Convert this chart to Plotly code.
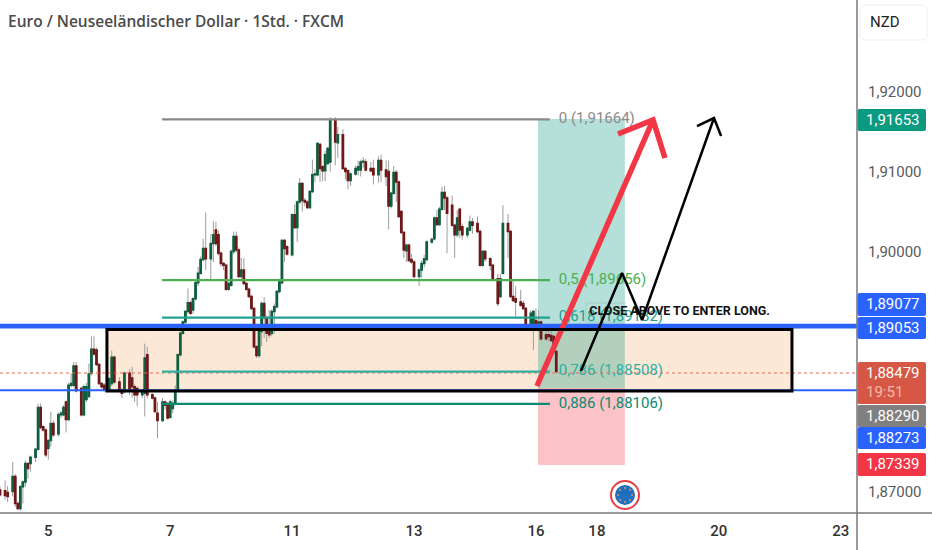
import plotly.graph_objects as go

# hourly bars, x is trading hours from the left edge of the chart
bar_hours = [0,2,3,5,6,7,8,9,10,11,
    12,14,15,16,17,18,19,20,21,23,
    24,25,26,27,28,29,30,32,33,34,
    35,36,37,38,39,40,41,43,44,45,
    47,48,49,51,52,53,54,56,57,58,
    60,61,62,64,65,66,67,68,69,70,
    71,72,73,74,75,76,77,78,79,80,
    81,83,84,85,86,87,88,89,90,91,
    92,93,94,95,96,97,98,99,100,101,
    102,103,104,105,106,107,108,109,110,111,
    112,113,115,116,117,118,119,120,121,122,
    123,124,125,126,127,128,129,130,132,133,
    135,136,137,138,140,141,142,143,144,146,
    147,149,150,152,153,154,155,156,157,158,
    159,160,161,162,163,165,166,167,168,170,
    171,172,173,174,175,176,178,179,180,181,
    182,184,185,186,188,189,190,191,193,194,
    196,197,198,200,201,202,203,205,206,207,
    209,210,211,212,213,215,216,217,218,219]

opens = [1.8700,1.8699,1.8697,1.8698,1.8717,1.8683,1.8677,1.8704,1.8710,1.8733,
    1.8733,1.8741,1.8751,1.8803,1.8779,1.8775,1.8752,1.8762,1.8783,1.8770,
    1.8794,1.8794,1.8810,1.8788,1.8831,1.8831,1.8855,1.8827,1.8794,1.8813,
    1.8817,1.8846,1.8876,1.8875,1.8857,1.8833,1.8831,1.8825,1.8833,1.8866,
    1.8835,1.8825,1.8823,1.8846,1.8840,1.8829,1.8827,1.8819,1.8821,1.8869,
    1.8819,1.8815,1.8796,1.8787,1.8810,1.8806,1.8791,1.8802,1.8808,1.8825,
    1.8869,1.8896,1.8910,1.8923,1.8934,1.8925,1.8939,1.8959,1.8971,1.8988,
    1.9002,1.8989,1.9008,1.9025,1.9019,1.8996,1.8983,1.8981,1.8951,1.8956,
    1.8998,1.9017,1.9000,1.8967,1.8975,1.8958,1.8951,1.8942,1.8927,1.8879,
    1.8868,1.8898,1.8933,1.8915,1.8898,1.8896,1.8923,1.8929,1.8948,1.8959,
    1.9012,1.9004,1.8994,1.9044,1.9028,1.9060,1.9083,1.9062,1.9060,1.9053,
    1.9073,1.9094,1.9094,1.9132,1.9104,1.9099,1.9108,1.9110,1.9162,1.9134,
    1.9144,1.9102,1.9099,1.9087,1.9095,1.9100,1.9100,1.9110,1.9110,1.9102,
    1.9102,1.9094,1.9112,1.9100,1.9098,1.9055,1.9071,1.9097,1.9085,1.9048,
    1.9022,1.8999,1.9006,1.8988,1.8985,1.8967,1.8975,1.8983,1.8988,1.9010,
    1.9014,1.9040,1.9032,1.9051,1.9072,1.9065,1.9056,1.9031,1.9019,1.9051,
    1.9029,1.9019,1.9025,1.9035,1.9033,1.9023,1.8981,1.8998,1.8989,1.8981,
    1.8964,1.8942,1.8971,1.9033,1.9023,1.8942,1.8939,1.8935,1.8933,1.8927,
    1.8907,1.8906,1.8912,1.8906,1.8910,1.8894,1.8894,1.8893,1.8892,1.8873]

closes = [1.8694,1.8693,1.8692,1.8717,1.8683,1.8677,1.8704,1.8710,1.8733,1.8727,
    1.8741,1.8751,1.8803,1.8778,1.8775,1.8744,1.8762,1.8783,1.8769,1.8794,
    1.8796,1.8803,1.8788,1.8831,1.8833,1.8855,1.8824,1.8794,1.8829,1.8829,
    1.8845,1.8876,1.8870,1.8857,1.8833,1.8829,1.8825,1.8839,1.8866,1.8835,
    1.8825,1.8821,1.8846,1.8825,1.8829,1.8819,1.8819,1.8822,1.8865,1.8819,
    1.8815,1.8798,1.8787,1.8810,1.8806,1.8790,1.8810,1.8808,1.8825,1.8869,
    1.8896,1.8910,1.8923,1.8934,1.8921,1.8939,1.8959,1.8971,1.8988,1.9002,
    1.8989,1.9008,1.9019,1.9008,1.8996,1.8983,1.8981,1.8951,1.8958,1.8998,
    1.9017,1.9000,1.8967,1.8975,1.8958,1.8951,1.8942,1.8927,1.8879,1.8868,
    1.8898,1.8933,1.8915,1.8896,1.8894,1.8923,1.8929,1.8948,1.8960,1.9012,
    1.9002,1.8995,1.9044,1.9028,1.9060,1.9083,1.9062,1.9060,1.9053,1.9073,
    1.9094,1.9095,1.9133,1.9102,1.9099,1.9119,1.9127,1.9162,1.9135,1.9144,
    1.9102,1.9098,1.9087,1.9095,1.9102,1.9104,1.9110,1.9111,1.9100,1.9099,
    1.9094,1.9112,1.9100,1.9092,1.9055,1.9071,1.9097,1.9085,1.9042,1.9022,
    1.9000,1.9006,1.8987,1.8985,1.8967,1.8975,1.8983,1.8989,1.9010,1.9013,
    1.9040,1.9032,1.9051,1.9072,1.9065,1.9046,1.9031,1.9019,1.9040,1.9025,
    1.9019,1.9027,1.9035,1.9031,1.9023,1.8981,1.8998,1.8989,1.8981,1.8964,
    1.8933,1.8964,1.9033,1.9023,1.8942,1.8937,1.8935,1.8931,1.8927,1.8906,
    1.8921,1.8923,1.8906,1.8910,1.8889,1.8889,1.8892,1.8887,1.8873,1.8848]

highs = [1.8704,1.8712,1.8705,1.8735,1.8720,1.8686,1.8706,1.8712,1.8737,1.8734,
    1.8743,1.8752,1.8808,1.8808,1.8781,1.8777,1.8763,1.8798,1.8787,1.8797,
    1.8799,1.8806,1.8812,1.8834,1.8846,1.8860,1.8860,1.8829,1.8832,1.8834,
    1.8858,1.8892,1.8892,1.8878,1.8859,1.8835,1.8834,1.8841,1.8874,1.8868,
    1.8841,1.8827,1.8848,1.8851,1.8854,1.8832,1.8829,1.8826,1.8883,1.8879,
    1.8821,1.8817,1.8810,1.8815,1.8812,1.8810,1.8813,1.8812,1.8831,1.8871,
    1.8898,1.8912,1.8925,1.8952,1.8937,1.8941,1.8962,1.8979,1.8992,1.9014,
    1.9047,1.9020,1.9036,1.9035,1.9024,1.8998,1.8985,1.8983,1.8960,1.9001,
    1.9023,1.9023,1.9003,1.8990,1.8990,1.8960,1.8953,1.8944,1.8929,1.8881,
    1.8902,1.8936,1.8941,1.8918,1.8925,1.8926,1.8933,1.8950,1.8963,1.9014,
    1.9014,1.9006,1.9046,1.9057,1.9062,1.9090,1.9085,1.9065,1.9062,1.9075,
    1.9113,1.9101,1.9135,1.9134,1.9106,1.9124,1.9129,1.9166,1.9166,1.9154,
    1.9151,1.9104,1.9101,1.9097,1.9106,1.9112,1.9113,1.9116,1.9114,1.9110,
    1.9113,1.9117,1.9119,1.9112,1.9112,1.9073,1.9105,1.9100,1.9087,1.9050,
    1.9024,1.9008,1.9008,1.8995,1.8987,1.8977,1.8987,1.8994,1.9012,1.9016,
    1.9042,1.9050,1.9054,1.9079,1.9080,1.9068,1.9068,1.9033,1.9050,1.9053,
    1.9033,1.9029,1.9043,1.9040,1.9042,1.9026,1.9000,1.9000,1.8991,1.8983,
    1.8970,1.8970,1.9056,1.9045,1.9025,1.8962,1.8955,1.8950,1.8937,1.8929,
    1.8925,1.8925,1.8927,1.8925,1.8912,1.8900,1.8905,1.8900,1.8895,1.8875]

lows = [1.8692,1.8688,1.8685,1.8692,1.8679,1.8675,1.8674,1.8683,1.8704,1.8714,
    1.8723,1.8735,1.8749,1.8776,1.8773,1.8741,1.8738,1.8754,1.8766,1.8767,
    1.8790,1.8792,1.8772,1.8786,1.8828,1.8828,1.8822,1.8792,1.8792,1.8810,
    1.8815,1.8843,1.8868,1.8855,1.8831,1.8827,1.8823,1.8823,1.8830,1.8833,
    1.8823,1.8815,1.8821,1.8819,1.8815,1.8810,1.8805,1.8815,1.8792,1.8815,
    1.8813,1.8796,1.8765,1.8785,1.8800,1.8788,1.8789,1.8796,1.8806,1.8823,
    1.8867,1.8894,1.8908,1.8921,1.8919,1.8920,1.8937,1.8955,1.8969,1.8986,
    1.8975,1.8963,1.8985,1.9005,1.8993,1.8979,1.8975,1.8949,1.8949,1.8954,
    1.8995,1.8997,1.8965,1.8963,1.8956,1.8949,1.8940,1.8925,1.8877,1.8865,
    1.8865,1.8880,1.8890,1.8885,1.8890,1.8892,1.8895,1.8927,1.8946,1.8957,
    1.8985,1.8993,1.8992,1.9026,1.9010,1.9058,1.9048,1.9055,1.9051,1.9051,
    1.9071,1.9085,1.9092,1.9085,1.9086,1.9086,1.9106,1.9098,1.9106,1.9115,
    1.9100,1.9088,1.9076,1.9080,1.9093,1.9093,1.9092,1.9103,1.9098,1.9097,
    1.9082,1.9084,1.9085,1.9080,1.9026,1.9052,1.9069,1.9060,1.9040,1.9020,
    1.8990,1.8985,1.8985,1.8983,1.8965,1.8955,1.8965,1.8978,1.8986,1.9008,
    1.9012,1.9030,1.9030,1.9049,1.9050,1.8996,1.9029,1.8990,1.9016,1.9015,
    1.9013,1.9015,1.9023,1.9020,1.9021,1.8979,1.8979,1.8985,1.8975,1.8962,
    1.8930,1.8940,1.8969,1.8990,1.8940,1.8935,1.8917,1.8929,1.8925,1.8904,
    1.8905,1.8875,1.8904,1.8904,1.8886,1.8886,1.8886,1.8885,1.8870,1.8845]

# readings came out a little low against the price scale
reading_offset = 0.00016
opens = [v + reading_offset for v in opens]
closes = [v + reading_offset for v in closes]
highs = [v + reading_offset for v in highs]
lows = [v + reading_offset for v in lows]

day_ticks = [19, 67, 115, 163, 211, 235, 283, 331]
day_labels = ['5', '7', '11', '13', '16', '18', '20', '23']
price_ticks = [1.87, 1.90, 1.91, 1.92]

fib_labels = ['0 (1,91664)', '0,5 (1,89656)', '0,618 (1,89182)', '0,786 (1,88508)', '0,886 (1,88106)']
fib_prices = [1.91648, 1.89640, 1.89170, 1.88495, 1.88093]
fib_colors = ['#8a8a8a', '#4caf50', '#22a08e', '#2fb0a2', '#0c8a72']
fib_start, fib_end, fib_text_x = 63.8, 216.5, 220

blue_lines = [1.89077, 1.89053, 1.88262]
blue_widths = [3, 3, 2]
last_price = 1.88479
zone_top, zone_bottom = 1.89023, 1.88254
zone_start, zone_end = 42.1, 311.8
trade_start, trade_end = 211.8, 246.0
target, entry, stop = 1.91653, 1.88290, 1.87330

red_arrow_x = [211.4, 257.1]
red_arrow_y = [1.88316, 1.91641]
red_head_x = [243.3, 257.1, 261.8]
red_head_y = [1.91466, 1.91641, 1.91166]
black_path_x = [228.7, 244.9, 252.8, 281.1]
black_path_y = [1.88504, 1.89729, 1.89141, 1.91666]
black_head_x = [274.4, 281.1, 283.9]
black_head_y = [1.91566, 1.91666, 1.91441]

# right scale badges: text, top px, bottom px, colour
badge_texts = ['1,91653', '1,89077', '1,89053', '1,88479', '1,88290', '1,88273', '1,87339']
badge_tops = [109, 293, 317, 362, 405, 427, 453]
badge_bottoms = [131, 316, 339, 404, 427, 449, 476]
badge_colors = ['#0b9a7f', '#2962ff', '#2962ff', '#d65745', '#808080', '#2962ff', '#f23645']

PLOT_W, PLOT_H = 857, 513
PRICE_FONT = dict(family='Roboto', size=15)


def xp(px):
    return px / PLOT_W


def yp(py):
    return 1 - py / PLOT_H


def rounded(x0, y0, x1, y1, r):
    return (f'M {xp(x0 + r)} {yp(y0)} L {xp(x1 - r)} {yp(y0)} Q {xp(x1)} {yp(y0)} {xp(x1)} {yp(y0 + r)} '
            f'L {xp(x1)} {yp(y1 - r)} Q {xp(x1)} {yp(y1)} {xp(x1 - r)} {yp(y1)} '
            f'L {xp(x0 + r)} {yp(y1)} Q {xp(x0)} {yp(y1)} {xp(x0)} {yp(y1 - r)} '
            f'L {xp(x0)} {yp(y0 + r)} Q {xp(x0)} {yp(y0)} {xp(x0 + r)} {yp(y0)} Z')


fig = go.Figure()

# gray wicks first, then the bodies on their own trace
wick = dict(line=dict(color='#9c9c9c', width=1), fillcolor='#9c9c9c')
fig.add_trace(go.Candlestick(x=bar_hours, open=opens, high=highs, low=lows, close=closes,
                             increasing=wick, decreasing=wick, whiskerwidth=0, hoverinfo='skip'))
tops = [max(o, c) for o, c in zip(opens, closes)]
bottoms = [min(o, c) for o, c in zip(opens, closes)]
fig.add_trace(go.Candlestick(x=bar_hours, open=opens, high=tops, low=bottoms, close=closes,
                             increasing=dict(line=dict(color='#0f5f3f', width=1.5), fillcolor='#0f5f3f'),
                             decreasing=dict(line=dict(color='#701818', width=1.5), fillcolor='#701818'),
                             whiskerwidth=0, hoverinfo='skip'))

for price, width in zip(blue_lines, blue_widths):
    fig.add_trace(go.Scatter(x=[0, PLOT_W / 2.54], y=[price, price], mode='lines',
                             line=dict(color='#2962ff', width=width), hoverinfo='skip'))
fig.add_trace(go.Scatter(x=[0, PLOT_W / 2.54], y=[last_price, last_price], mode='lines',
                         line=dict(color='#e8685a', width=1, dash='dot'), hoverinfo='skip'))

for label, price, color in zip(fib_labels, fib_prices, fib_colors):
    fig.add_trace(go.Scatter(x=[fib_start, fib_end], y=[price, price], mode='lines',
                             line=dict(color=color, width=2.2), hoverinfo='skip'))
    fig.add_trace(go.Scatter(x=[fib_text_x], y=[price], mode='text', text=[label],
                             textposition='middle right', textfont=dict(family='Roboto', size=15, color=color),
                             hoverinfo='skip'))

fig.add_trace(go.Scatter(x=[fib_text_x + 12], y=[1.89241], mode='text', text=['<b>CLOSE ABOVE TO ENTER LONG.</b>'],
                         textposition='middle right', textfont=dict(family='Roboto', size=12.5, color='#111111'),
                         hoverinfo='skip'))

red = dict(color='#f23645', width=5.5)
fig.add_trace(go.Scatter(x=red_arrow_x, y=red_arrow_y, mode='lines', line=red, hoverinfo='skip'))
fig.add_trace(go.Scatter(x=red_head_x, y=red_head_y, mode='lines', line=red, hoverinfo='skip'))
black = dict(color='#000000', width=2.5)
fig.add_trace(go.Scatter(x=black_path_x, y=black_path_y, mode='lines', line=black, hoverinfo='skip'))
fig.add_trace(go.Scatter(x=black_head_x, y=black_head_y, mode='lines', line=black, hoverinfo='skip'))

shapes = [
    dict(type='rect', layer='below', x0=zone_start, x1=zone_end, y0=zone_bottom, y1=zone_top,
         fillcolor='#fce8d6', line_width=0),
    dict(type='rect', layer='below', x0=trade_start, x1=trade_end, y0=entry, y1=target,
         fillcolor='rgba(8,153,129,0.3)', line_width=0),
    dict(type='rect', layer='below', x0=trade_start, x1=trade_end, y0=stop, y1=entry,
         fillcolor='rgba(242,54,69,0.3)', line_width=0),
    dict(type='rect', layer='below', xref='paper', yref='paper', x0=xp(586), x1=xp(625), y0=yp(322), y1=yp(303),
         fillcolor='rgba(255,255,255,0.75)', line=dict(color='#e6e6e6', width=1)),
    dict(type='rect', layer='above', x0=zone_start, x1=zone_end, y0=zone_bottom, y1=zone_top,
         fillcolor='rgba(0,0,0,0)', line=dict(color='#000000', width=3)),
    # scale frame runs on into the margins
    dict(type='line', xref='paper', yref='paper', x0=1, x1=1, y0=1, y1=yp(550), line=dict(color='#787878', width=1.5)),
    dict(type='line', xref='paper', yref='paper', x0=0, x1=xp(932), y0=0, y1=0, line=dict(color='#787878', width=1.5)),
    dict(type='path', xref='paper', yref='paper', path=rounded(860, 5, 927, 40, 5),
         fillcolor='#ffffff', line=dict(color='#f0f0f0', width=1)),
    # flag icon
    dict(type='circle', xref='paper', yref='paper', x0=xp(611), x1=xp(639), y0=yp(481), y1=yp(509),
         fillcolor='#ffffff', line=dict(color='#ea3a45', width=2)),
    dict(type='circle', xref='paper', yref='paper', x0=xp(615), x1=xp(635), y0=yp(485), y1=yp(505),
         fillcolor='#1f6fc0', line_width=0),
]
for dx, dy in [(0, -7), (5, -5), (7, 0), (5, 5), (0, 7), (-5, 5), (-7, 0), (-5, -5)]:
    shapes.append(dict(type='circle', xref='paper', yref='paper', x0=xp(624 + dx), x1=xp(626 + dx),
                       y0=yp(494 + dy), y1=yp(496 + dy), fillcolor='#e8935a', line_width=0))

annotations = [
    dict(text='Euro / Neuseeländischer Dollar · 1Std. · FXCM', xref='paper', yref='paper', x=xp(6), y=yp(21),
         xanchor='left', yanchor='middle', showarrow=False,
         font=dict(family='Open Sans', size=15.5, color='#4a4a4a', weight=600)),
    dict(text='NZD', xref='paper', yref='paper', x=xp(868), y=yp(22), xanchor='left', yanchor='middle',
         showarrow=False, font=dict(family='Roboto', size=15, color='#222222')),
]
for text, top, bottom, color in zip(badge_texts, badge_tops, badge_bottoms, badge_colors):
    shapes.append(dict(type='path', xref='paper', yref='paper', path=rounded(857.5, top, 926, bottom, 2),
                       fillcolor=color, line_width=0))
    annotations.append(dict(text=text, xref='paper', yref='paper', x=xp(864), y=yp(top + 11), xanchor='left',
                            yanchor='middle', showarrow=False, font=dict(PRICE_FONT, color='#ffffff')))
annotations.append(dict(text='19:51', xref='paper', yref='paper', x=xp(864), y=yp(391.5), xanchor='left',
                        yanchor='middle', showarrow=False, font=dict(PRICE_FONT, color='#f5b8ae')))

fig.update_layout(
    width=932, height=550, showlegend=False,
    margin=dict(l=0, r=932 - PLOT_W, t=0, b=550 - PLOT_H),
    paper_bgcolor='#ffffff', plot_bgcolor='#ffffff',
    separators=',.',
    shapes=shapes, annotations=annotations,
    xaxis=dict(range=[0, PLOT_W / 2.54], tickvals=day_ticks, ticktext=day_labels, showgrid=False, zeroline=False,
               rangeslider=dict(visible=False), ticks='outside', ticklen=4, tickcolor='rgba(0,0,0,0)',
               tickfont=dict(family='Roboto', size=15, color='#333333', weight=500)),
    yaxis=dict(range=[1.867288, 1.931413], side='right', tickvals=price_ticks, tickformat='.5f', showgrid=False,
               zeroline=False, ticks='outside', ticklen=7, tickcolor='rgba(0,0,0,0)',
               tickfont=dict(family='Roboto', size=15, color='#5a5a5a')),
)

fig.write_html("out.html", config=dict(displayModeBar=False), post_script="document.body.style.margin='0'")
